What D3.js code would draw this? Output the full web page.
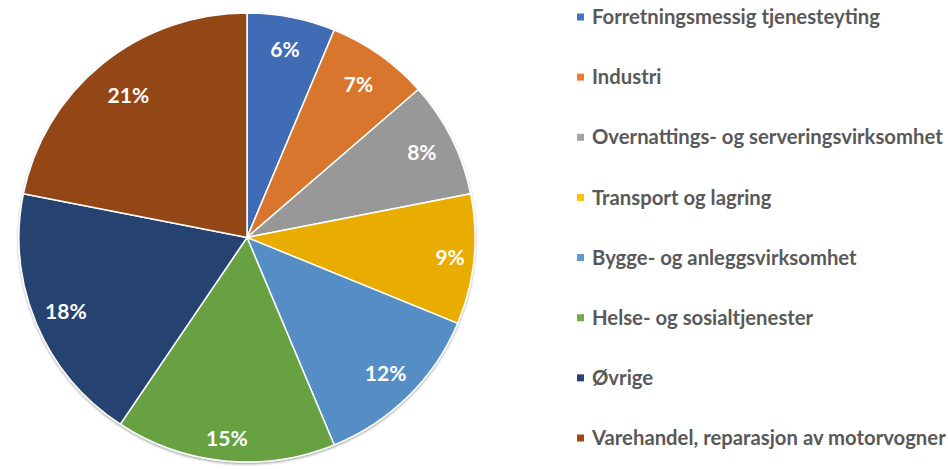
<!DOCTYPE html>
<html><head><meta charset="utf-8">
<script src="https://cdn.jsdelivr.net/npm/d3@7"></script>
<style>body{margin:0;background:#fff}svg{display:block}</style>
</head><body>
<script>
const categories = ["Forretningsmessig tjenesteyting","Industri","Overnattings- og serveringsvirksomhet","Transport og lagring","Bygge- og anleggsvirksomhet","Helse- og sosialtjenester","Øvrige","Varehandel, reparasjon av motorvogner"];
const values = [6,7,8,9,12,15,18,21];
const sliceColors = ["#416CB6","#D9762F","#989898","#E8AD05","#558EC4","#67A143","#284271","#934715"];
const legendColors = ["#4472C4","#ED7D31","#A5A5A5","#FFC000","#5B9BD5","#70AD47","#264478","#9E480E"];

const W=948,H=469;
const svg=d3.select("body").append("svg").attr("width",W).attr("height",H);
const defs=svg.append("defs");
const f=defs.append("filter").attr("id","sh").attr("x","-10%").attr("y","-10%").attr("width","120%").attr("height","120%");
f.append("feDropShadow").attr("dx",0).attr("dy",1.5).attr("stdDeviation",1.2).attr("flood-color","#000").attr("flood-opacity",0.35);

const cx=247, cy=237.5, r=228, ry=224.5;
const g=svg.append("g").attr("transform",`translate(${cx},${cy}) scale(1,${ry/r})`);
const pie=d3.pie().sort(null).value(d=>d);
const arcs=pie(values);
const arc=d3.arc().innerRadius(0).outerRadius(r);
g.append("g").attr("filter","url(#sh)").selectAll("path").data(arcs).join("path")
  .attr("d",arc).attr("fill",(d,i)=>sliceColors[i])
  .attr("stroke","#fff").attr("stroke-width",1.5).attr("stroke-linejoin","round");

const labelR=[0.855,0.84,0.855,0.895,0.86,0.9,0.86,0.82];
const lg=svg.append("g").attr("transform",`translate(${cx},${cy}) scale(1,${ry/r})`);
lg.selectAll("text").data(arcs).join("text")
  .attr("transform",(d,i)=>{const a=d3.arc().innerRadius(r*labelR[i]).outerRadius(r*labelR[i]);const c=a.centroid(d);return `translate(${c[0]},${c[1]}) scale(1,${r/ry})`;})
  .attr("text-anchor","middle").attr("dy","0.35em")
  .attr("fill","#fff").attr("font-family","Lato, 'Open Sans', sans-serif").attr("font-weight","bold").attr("font-size","21px")
  .text((d,i)=>values[i]+"%");

const leg=svg.append("g");
const rowY=d3.scalePoint().domain(categories).range([17,438]);
const items=leg.selectAll("g").data(categories).join("g").attr("transform",d=>`translate(577,${rowY(d)})`);
items.append("rect").attr("x",0).attr("y",-3.5).attr("width",7).attr("height",7).attr("fill",(d,i)=>legendColors[i]);
items.append("text").attr("x",15).attr("dy","0.35em").attr("fill","#595959")
  .attr("font-family","Lato, 'Open Sans', sans-serif").attr("font-weight","bold").attr("font-size","20.3px").text(d=>d);
</script>
</body></html>
